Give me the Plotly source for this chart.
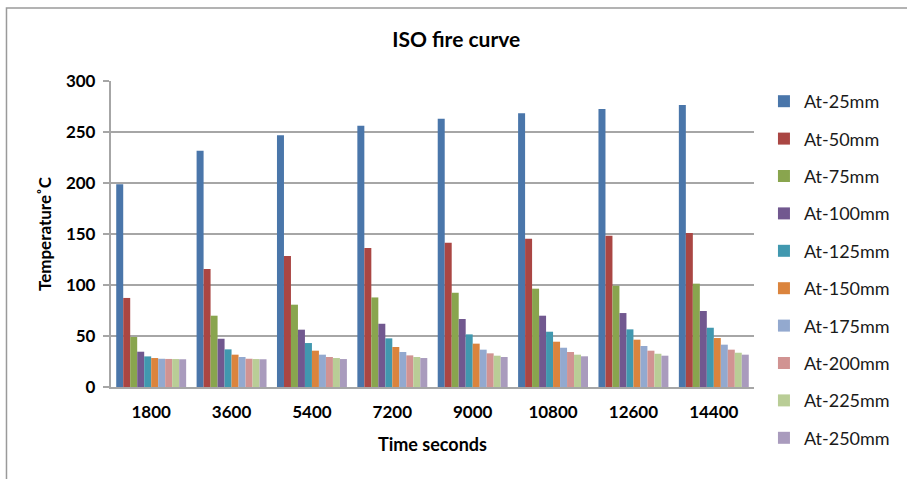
import plotly.graph_objects as go

# Time steps (seconds) on the x axis
times = ["1800", "3600", "5400", "7200", "9000", "10800", "12600", "14400"]

# Temperatures (°C) at each depth
at_25 = [198.7, 231.7, 246.7, 256.2, 263.0, 268.3, 272.5, 276.4]
at_50 = [87.3, 115.7, 128.4, 136.3, 141.5, 145.4, 148.3, 151.0]
at_75 = [49.0, 69.9, 80.7, 87.8, 92.4, 96.4, 99.3, 101.3]
at_100 = [34.6, 47.3, 56.2, 62.0, 66.7, 69.9, 72.5, 74.5]
at_125 = [30.0, 36.9, 43.1, 47.7, 51.6, 54.2, 56.5, 58.1]
at_150 = [28.4, 31.7, 35.6, 39.2, 42.5, 44.4, 46.4, 48.0]
at_175 = [27.7, 29.4, 31.7, 34.3, 36.6, 38.5, 40.2, 41.5]
at_200 = [27.5, 27.7, 29.4, 31.0, 33.0, 34.3, 35.6, 36.6]
at_225 = [27.4, 27.4, 28.4, 29.4, 30.7, 31.7, 32.6, 33.6]
at_250 = [27.2, 27.2, 27.4, 28.4, 29.4, 30.1, 30.7, 31.7]

series_names = ["At-25mm", "At-50mm", "At-75mm", "At-100mm", "At-125mm",
                "At-150mm", "At-175mm", "At-200mm", "At-225mm", "At-250mm"]
series_values = [at_25, at_50, at_75, at_100, at_125,
                 at_150, at_175, at_200, at_225, at_250]
colors = ["#4A76AA", "#AA4643", "#89A54E", "#71588F", "#4198AF",
          "#DB843D", "#93A9CF", "#D19392", "#B9CD96", "#A99BBD"]

FONT = "Lato"
PW, PH = 646, 306  # plot area size in px

fig = go.Figure()
for name, vals, col in zip(series_names, series_values, colors):
    fig.add_trace(go.Bar(
        x=times, y=vals, name=name, legendgroup=name,
        marker=dict(color=col, line=dict(width=0)),
    ))

tick_font = dict(size=17, family=FONT, color="#000000")

fig.update_layout(
    width=907, height=479,
    paper_bgcolor="white", plot_bgcolor="white",
    margin=dict(l=111, r=150, t=81, b=92),
    barmode="group", bargap=0.13, bargroupgap=0,
    font=dict(family=FONT, color="#000000"),
    title=dict(text="<b>ISO fire curve</b>", x=0.503, xanchor="center",
               y=1 - 40 / 479, yanchor="middle",
               font=dict(size=21, family=FONT, color="#000000")),
    showlegend=True,
    legend=dict(x=1 + 10 / PW, xref="paper", xanchor="left",
                y=1 - 2 / PH, yanchor="top",
                font=dict(size=18, family=FONT, color="#1A1A1A"),
                tracegroupgap=11, itemsizing="constant",
                traceorder="grouped", itemwidth=30, maxheight=460),
    xaxis=dict(
        type="category",
        showgrid=False, showline=True, linecolor="#A6A6A6", linewidth=1.5,
        # invisible ticks push the labels down a little
        ticks="outside", ticklen=9, tickcolor="rgba(0,0,0,0)",
        tickfont=tick_font,
        tickprefix="<b>", ticksuffix="</b>",
        title=dict(text="<b>Time seconds</b>", standoff=17,
                   font=dict(size=18, family=FONT, color="#000000")),
    ),
    yaxis=dict(
        range=[0, 300], dtick=50,
        showgrid=True, gridcolor="#A6A6A6", gridwidth=1.5,
        showline=True, linecolor="#A6A6A6", linewidth=1.5,
        ticks="outside", ticklen=6, tickcolor="#A6A6A6", tickwidth=1.5,
        tickfont=tick_font,
        tickprefix="<b>", ticksuffix="</b>\u00a0",
        zeroline=False,
        title=dict(text="<b>Temperature˚C</b>", standoff=10,
                   font=dict(size=17, family=FONT, color="#000000")),
    ),
    shapes=[dict(type="rect", xref="paper", yref="paper",
                 x0=-105 / PW, x1=1 + 160 / PW,
                 y0=-110 / PH, y1=1 + 73 / PH,
                 line=dict(color="#9A9A9A", width=1.5), fillcolor="rgba(0,0,0,0)",
                 layer="below")],
)

fig.write_html("out.html")
